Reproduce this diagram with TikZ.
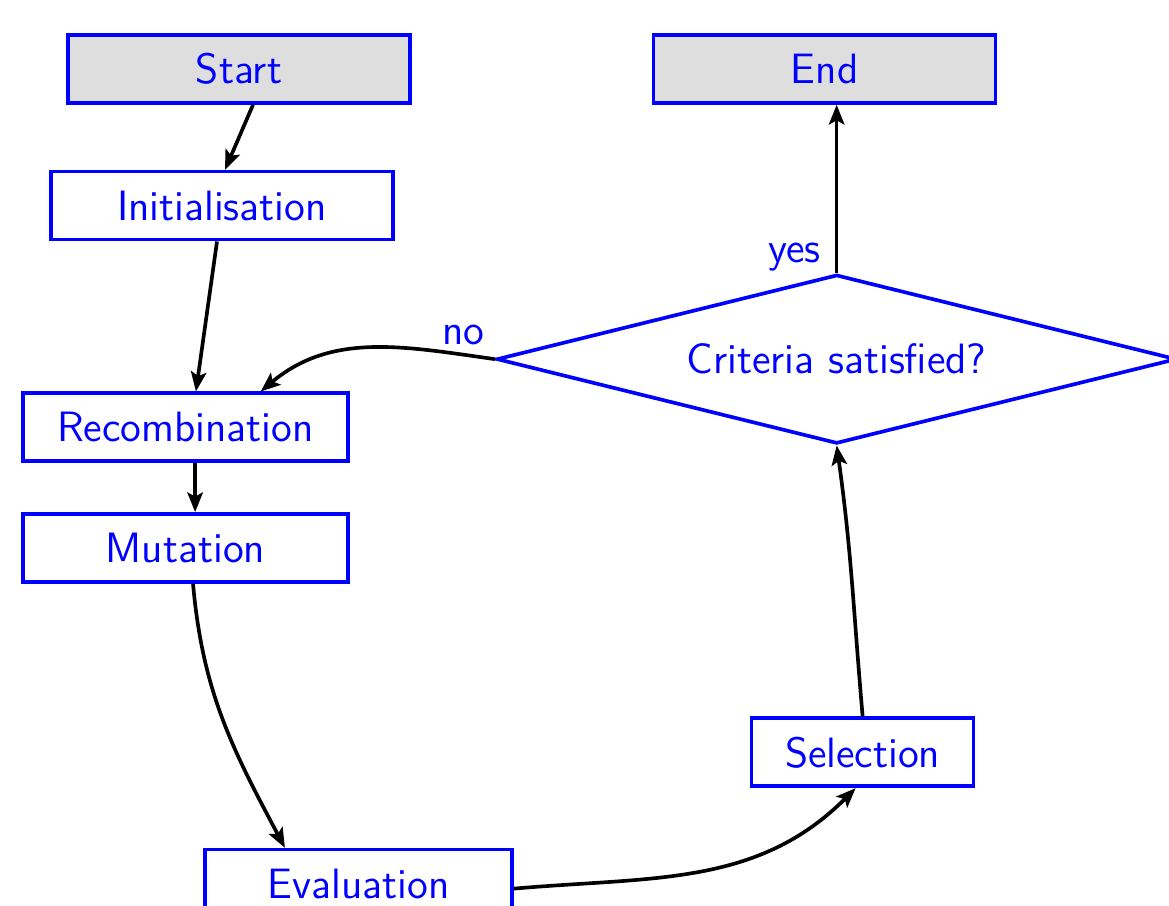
\documentclass[tikz,border=0pt]{standalone}
\usepackage{tikz}
\usetikzlibrary{arrows.meta, positioning}
\usetikzlibrary{shapes.geometric}
\tikzset{
  start_end/.style={
      rectangle,
      draw=blue, fill=black!13,
      line width=1.3pt,
      minimum width=4.275cm,
      minimum height=0.85cm,
      text=blue, font=\sffamily\fontsize{15.1}{18}\selectfont,
    },
  process/.style={
      rectangle,
      draw=blue,
      line width=1.3pt,
      minimum height=0.85cm,
      text=blue, font=\sffamily\fontsize{15.1}{18}\selectfont,
    },
  decision/.style={
      diamond,
      aspect=4,
      draw=blue,
      line width=1.3pt,
      minimum width=8.5cm,
      minimum height=2.1125cm,
      text=blue, font=\sffamily\fontsize{15.1}{18}\selectfont,
    },
  description/.style={
      text=blue, font=\sffamily\fontsize{15.1}{18}\selectfont,
      inner sep=0pt,
    },
  flow/.style={
      draw=black, line width=1.3pt,
      -{Stealth[length=7pt, width=5.5pt, inset=1.5pt]},
    },
}

\begin{document}
\begin{tikzpicture}
  \useasboundingbox (-2.9875,0.8625) rectangle (11.625,-10.4625);
  \node[start_end] (start) {Start};
  \node[start_end, right=3.0cm of start] (end) {End};
  \node[process, minimum width=4.275cm, below=0.8125cm of start, xshift=-0.2125cm] (init) {Initialisation};
  \node[process, minimum width=4.0625cm, below=1.875cm of init, xshift=-0.456cm] (recomb) {Recombination};
  \node[process, minimum width=4.0625cm, below=0.6125cm of recomb] (mutation) {Mutation};
  \node[process, minimum width=3.8375cm, below=3.3cm of mutation, xshift=2.1625cm] (evaluation) {Evaluation};
  \node[decision, below=2.1cm of end, xshift=0.15cm] (check) {Criteria satisfied?};
  \node[process, minimum width=2.775cm, below=3.3875cm of check, xshift=0.325cm] (selection) {Selection};
  \draw[flow] ([xshift=0.175cm]start.south) -- ([xshift=0.0375cm]init.north);
  \draw[flow] ([xshift=-0.0625cm]init.south) -- ([xshift=0.13cm]recomb.north);
  \draw[flow] ([xshift=0.12cm]recomb.south) -- ([xshift=0.12cm]mutation.north);
  \draw[flow] ([xshift=0.094cm]mutation.south) to[out=-85, in=118] ([xshift=-0.92cm]evaluation.north);
  \draw[flow] ([yshift=-0.0625cm]evaluation.east) to[out=5, in=-135] ([xshift=-0.0875cm]selection.south);
  \draw[flow] (selection.north) to[out=95, in=-82] (check.south);
  \draw[flow] (check.north) -- node[description, pos=0, anchor=south east, xshift=-0.175cm] {yes} ([xshift=0.15cm]end.south);
  \draw[flow] (check.west) to[out=172, in=40] node[description, pos=0, anchor=south east, xshift=-0.11cm, yshift=0.15cm] {no} ([xshift=0.94cm]recomb.north);
\end{tikzpicture}
\end{document}
